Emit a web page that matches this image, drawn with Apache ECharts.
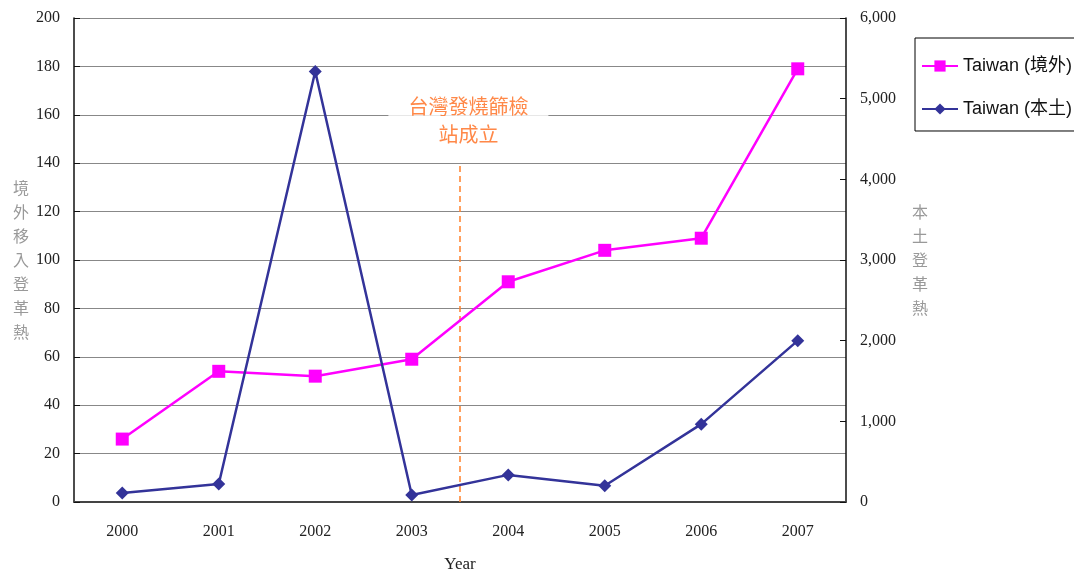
<!DOCTYPE html>
<html>
<head>
<meta charset="utf-8">
<script src="https://cdn.jsdelivr.net/npm/echarts@6/dist/echarts.min.js"></script>
<style>
  html, body { margin: 0; padding: 0; background: #fff; }
  #chart { width: 1074px; height: 572px; }
</style>
</head>
<body>
<div id="chart"></div>
<script>
// Dengue fever cases in Taiwan, 2000-2007
const years = ['2000', '2001', '2002', '2003', '2004', '2005', '2006', '2007'];
const importedCases = [26, 54, 52, 59, 91, 104, 109, 179];        // left axis
const localCases = [112, 223, 5336, 86, 336, 202, 965, 2000];      // right axis
const screeningMarker = [[4, 0], [4, 140]];                         // between 2003 and 2004
const screeningNote = [[4.087, 157.8]];
const screeningText = '台灣發燒篩檢\n站成立';

const serif = '"Liberation Serif", "DejaVu Serif", serif';
const cjk = '"Noto Sans CJK TC", "Noto Sans CJK SC", sans-serif';

const chart = echarts.init(document.getElementById('chart'));
chart.setOption({
  animation: false,
  backgroundColor: '#fff',
  grid: { left: 74, right: 228, top: 18, bottom: 70, outerBoundsMode: 'none', containLabel: false },
  legend: {
    orient: 'vertical',
    left: 915,
    top: 38,
    data: ['Taiwan (境外)', 'Taiwan (本土)'],
    itemWidth: 36,
    itemHeight: 14,
    itemGap: 25,
    padding: [19, 12, 13, 6],
    borderColor: '#000',
    borderWidth: 1,
    borderRadius: 0,
    textStyle: { fontFamily: '"Liberation Sans", Arial, ' + cjk, fontSize: 18, color: '#111' }
  },
  xAxis: [
    {
      type: 'category',
      data: years,
      boundaryGap: true,
      name: 'Year',
      nameLocation: 'middle',
      nameGap: 54,
      nameTextStyle: { fontFamily: serif, fontSize: 17, color: '#222' },
      axisLine: { lineStyle: { color: '#444', width: 2 } },
      axisTick: { inside: true, length: 6, interval: 0, lineStyle: { color: '#222' } },
      axisLabel: { fontFamily: serif, fontSize: 16, color: '#222', margin: 22 },
      splitLine: { show: false }
    },
    { type: 'value', min: 0, max: 8, show: false }
  ],
  yAxis: [
    {
      type: 'value',
      min: 0, max: 200, interval: 20,
      name: '境\n外\n移\n入\n登\n革\n熱',
      nameLocation: 'middle',
      nameRotate: 0,
      nameGap: 45,
      nameTextStyle: { fontFamily: cjk, fontSize: 16, color: '#999', lineHeight: 24 },
      axisLine: { show: true, lineStyle: { color: '#111', width: 1.5 } },
      axisTick: { show: true, inside: true, length: 6, lineStyle: { color: '#111' } },
      axisLabel: { fontFamily: serif, fontSize: 16, color: '#222', margin: 14 },
      splitLine: { show: true, lineStyle: { color: '#888', width: 1 } }
    },
    {
      type: 'value',
      min: 0, max: 6000, interval: 1000,
      position: 'right',
      name: '本\n土\n登\n革\n熱',
      nameLocation: 'middle',
      nameRotate: 0,
      nameGap: 66,
      nameTextStyle: { fontFamily: cjk, fontSize: 16, color: '#999', lineHeight: 24 },
      axisLine: { show: true, lineStyle: { color: '#111', width: 1.5 } },
      axisTick: { show: true, inside: true, length: 6, lineStyle: { color: '#111' } },
      axisLabel: {
        fontFamily: serif, fontSize: 16, color: '#222', margin: 14,
        formatter: v => v.toLocaleString('en-US')
      },
      splitLine: { show: false }
    }
  ],
  series: [
    {
      name: 'Taiwan (境外)',
      type: 'line',
      yAxisIndex: 0,
      data: importedCases,
      symbol: 'rect',
      symbolSize: 13,
      lineStyle: { color: '#FF00FF', width: 2.5 },
      itemStyle: { color: '#FF00FF' },
      z: 3
    },
    {
      name: 'Taiwan (本土)',
      type: 'line',
      yAxisIndex: 1,
      data: localCases,
      symbol: 'diamond',
      symbolSize: 13,
      lineStyle: { color: '#333399', width: 2.5 },
      itemStyle: { color: '#333399' },
      z: 4
    },
    {
      type: 'line',
      xAxisIndex: 1,
      yAxisIndex: 0,
      data: screeningMarker,
      symbol: 'none',
      silent: true,
      lineStyle: { color: '#FF7F27', width: 1.5, type: [6, 4] },
      z: 2
    },
    {
      type: 'scatter',
      xAxisIndex: 1,
      yAxisIndex: 0,
      data: screeningNote,
      symbolSize: 1,
      silent: true,
      itemStyle: { color: 'rgba(0,0,0,0)' },
      label: {
        show: true,
        position: 'inside',
        formatter: screeningText,
        fontFamily: cjk,
        fontSize: 20,
        lineHeight: 28,
        color: '#FF6A1A',
        backgroundColor: '#fff',
        padding: [3, 20, 15, 20],
        align: 'center'
      },
      z: 5
    }
  ]
});
</script>
</body>
</html>
